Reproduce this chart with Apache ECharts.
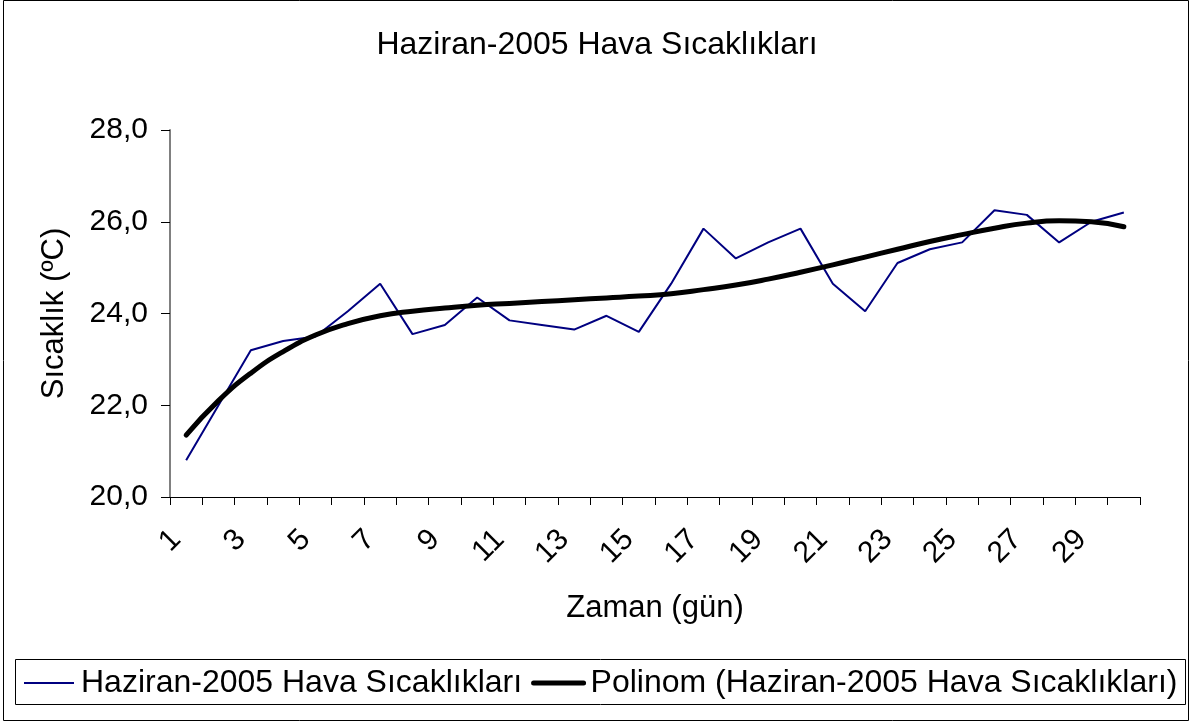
<!DOCTYPE html>
<html>
<head>
<meta charset="utf-8">
<title>Haziran-2005 Hava Sıcaklıkları</title>
<script src="https://cdn.jsdelivr.net/npm/echarts@6/dist/echarts.min.js"></script>
<style>
  html, body { margin: 0; padding: 0; background: #fff; }
  #main { width: 1194px; height: 724px; }
</style>
</head>
<body>
<div id="main"></div>
<script>
// days of June 2005
var days = [];
for (var d = 1; d <= 30; d++) days.push(String(d));

// daily temperatures
var temps = [20.8, 22.0, 23.2, 23.4, 23.5, 24.05, 24.65, 23.55, 23.75, 24.35,
             23.85, 23.75, 23.65, 23.95, 23.6, 24.65, 25.85, 25.2, 25.55, 25.85,
             24.65, 24.05, 25.1, 25.4, 25.55, 26.25, 26.15, 25.55, 26.0, 26.2];

// polynomial trendline, read at each day
var trend = [21.35, 22.1, 22.7, 23.17, 23.53, 23.78, 23.95, 24.05, 24.12, 24.18,
             24.22, 24.26, 24.3, 24.34, 24.38, 24.43, 24.52, 24.62, 24.75, 24.9,
             25.06, 25.23, 25.4, 25.57, 25.72, 25.86, 25.97, 26.02, 26.0, 25.89];

var seriesName = 'Haziran-2005 Hava Sıcaklıkları';
var trendName = 'Polinom (Haziran-2005 Hava Sıcaklıkları)';
var font = 'Liberation Sans';

var chart = echarts.init(document.getElementById('main'));

chart.setOption({
    animation: false,
    textStyle: { fontFamily: font },
    title: {
        text: 'Haziran-2005 Hava Sıcaklıkları',
        left: 'center',
        top: 24,
        textStyle: { fontFamily: font, fontSize: 32, fontWeight: 'normal', color: '#000' }
    },
    graphic: [
        // outer frame
        { type: 'rect', shape: { x: 3.5, y: 0.5, width: 1185, height: 720 },
          style: { fill: 'none', stroke: '#000', lineWidth: 1 }, silent: true },
        // legend frame
        { type: 'rect', shape: { x: 15.5, y: 659.5, width: 1170, height: 45 },
          style: { fill: 'none', stroke: '#000', lineWidth: 1 }, silent: true }
    ],
    legend: {
        left: 23,
        top: 667,
        width: 1165,
        padding: 0,
        itemGap: 9,
        itemWidth: 50,
        itemHeight: 14,
        itemStyle: { opacity: 0 },
        textStyle: { fontFamily: font, fontSize: 32, color: '#000', padding: [0, 0, 0, 2] },
        data: [
            { name: seriesName, lineStyle: { width: 2 } },
            { name: trendName, lineStyle: { width: 5 } }
        ]
    },
    grid: { left: 170, right: 54, top: 130, bottom: 227 },
    xAxis: {
        type: 'category',
        data: days,
        boundaryGap: true,
        name: 'Zaman (gün)',
        nameLocation: 'middle',
        nameGap: 96,
        nameTextStyle: { fontFamily: font, fontSize: 31, color: '#000' },
        axisLine: { lineStyle: { color: '#000', width: 1 } },
        axisTick: { show: true, length: 8, interval: 0, lineStyle: { color: '#000' } },
        axisLabel: {
            interval: 1,
            rotate: 45,
            margin: 28,
            padding: [0, 14, 0, 0],
            fontFamily: font,
            fontSize: 30,
            color: '#000'
        },
        splitLine: { show: false }
    },
    yAxis: {
        type: 'value',
        min: 20,
        max: 28,
        interval: 2,
        name: 'Sıcaklık (ºC)',
        nameLocation: 'middle',
        nameGap: 100,
        nameTextStyle: { fontFamily: font, fontSize: 31, color: '#000' },
        axisLine: { show: true, lineStyle: { color: '#808080', width: 2 } },
        axisTick: { show: true, length: 9, lineStyle: { color: '#000' } },
        axisLabel: {
            margin: 22,
            fontFamily: font,
            fontSize: 30,
            color: '#000',
            formatter: function (v) { return v.toFixed(1).replace('.', ','); }
        },
        splitLine: { show: false }
    },
    series: [
        {
            name: seriesName,
            type: 'line',
            data: temps,
            symbol: 'none',
            lineStyle: { color: '#000080', width: 2 },
            itemStyle: { color: '#000080' },
            z: 2
        },
        {
            name: trendName,
            type: 'line',
            data: trend,
            smooth: true,
            symbol: 'none',
            lineStyle: { color: '#000', width: 5, cap: 'round' },
            itemStyle: { color: '#000' },
            z: 3
        }
    ]
});
</script>
</body>
</html>
